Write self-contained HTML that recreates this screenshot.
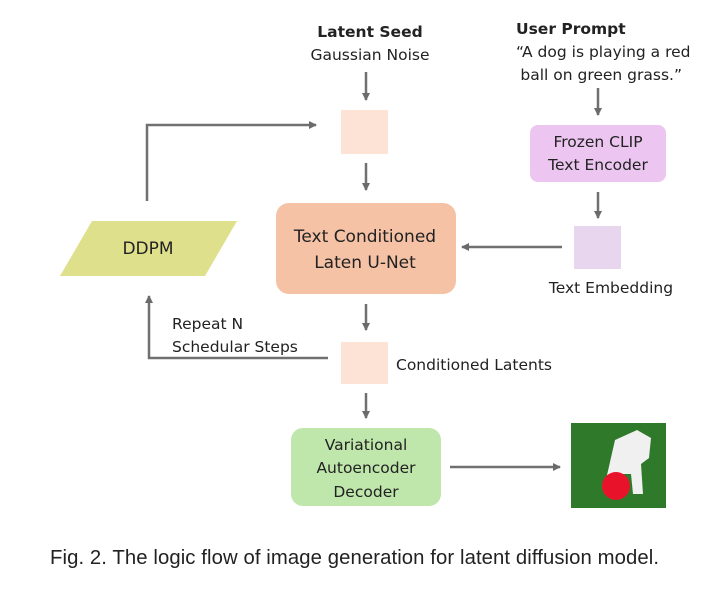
<!DOCTYPE html>
<html><head><meta charset="utf-8"><style>
body{margin:0;background:#fff;}
svg text{font-family:"DejaVu Sans","Liberation Sans",sans-serif;fill:#222;}
</style></head><body>
<svg width="712" height="598" viewBox="0 0 712 598" xmlns="http://www.w3.org/2000/svg">
<defs><marker id="a" markerWidth="8" markerHeight="8" refX="7" refY="4" orient="auto" markerUnits="userSpaceOnUse"><path d="M0,0 L8,4 L0,8 z" fill="#6b6b6b"/></marker></defs>
<g stroke="#707070" stroke-width="2.5" fill="none" marker-end="url(#a)">
<line x1="366" y1="72" x2="366" y2="100"/>
<line x1="366" y1="163" x2="366" y2="190"/>
<line x1="366" y1="304" x2="366" y2="330"/>
<line x1="366" y1="393" x2="366" y2="418"/>
<line x1="598" y1="88" x2="598" y2="115"/>
<line x1="598" y1="192" x2="598" y2="218"/>
<line x1="562" y1="247" x2="462" y2="247"/>
<line x1="450" y1="467" x2="560" y2="467"/>
<polyline points="147,201 147,125 316,125"/>
<polyline points="328,358 149,358 149,296"/>
</g>
<rect x="341" y="110" width="47" height="44" fill="#fce3d6"/>
<rect x="341" y="342" width="47" height="42" fill="#fce3d6"/>
<rect x="276" y="203" width="180" height="91" rx="13" fill="#f5c2a6"/>
<polygon points="60,276 92,221 237,221 205,276" fill="#dfe08c"/>
<rect x="291" y="428" width="150" height="78" rx="12" fill="#bfe6ab"/>
<rect x="530" y="125" width="136" height="57" rx="8" fill="#ecc6f0"/>
<rect x="574" y="226" width="47" height="43" fill="#e7d6ee"/>
<g>
<rect x="571" y="423" width="95" height="85" fill="#2f7a2a"/>
<path d="M615,440 l22,-10 l14,8 l-2,20 l-8,6 l2,30 l-10,0 l-2,-20 l-20,0 l-6,10 z" fill="#f0f0f0"/>
<circle cx="616" cy="486" r="14" fill="#e8132b"/>
</g>
<g font-size="15.5" text-anchor="middle">
<text x="370" y="37" font-weight="bold">Latent Seed</text>
<text x="370" y="60">Gaussian Noise</text>
<text x="365" y="242" font-size="17">Text Conditioned</text>
<text x="365" y="268" font-size="17">Laten U-Net</text>
<text x="148" y="254" font-size="17">DDPM</text>
<text x="366" y="450">Variational</text>
<text x="366" y="473">Autoencoder</text>
<text x="366" y="497">Decoder</text>
<text x="598" y="147">Frozen CLIP</text>
<text x="598" y="170">Text Encoder</text>
<text x="611" y="293">Text Embedding</text>
</g>
<g font-size="15.5">
<text x="516" y="34" font-weight="bold">User Prompt</text>
<text x="516" y="57">“A dog is playing a red</text>
<text x="682" y="80" text-anchor="end">ball on green grass.”</text>
<text x="172" y="329">Repeat N</text>
<text x="172" y="352">Schedular Steps</text>
<text x="396" y="370">Conditioned Latents</text>
</g>
<text x="50" y="564" font-size="20.3" textLength="609" style="font-family:'Liberation Sans',sans-serif">Fig. 2. The logic flow of image generation for latent diffusion model.</text>
</svg>
</body></html>
